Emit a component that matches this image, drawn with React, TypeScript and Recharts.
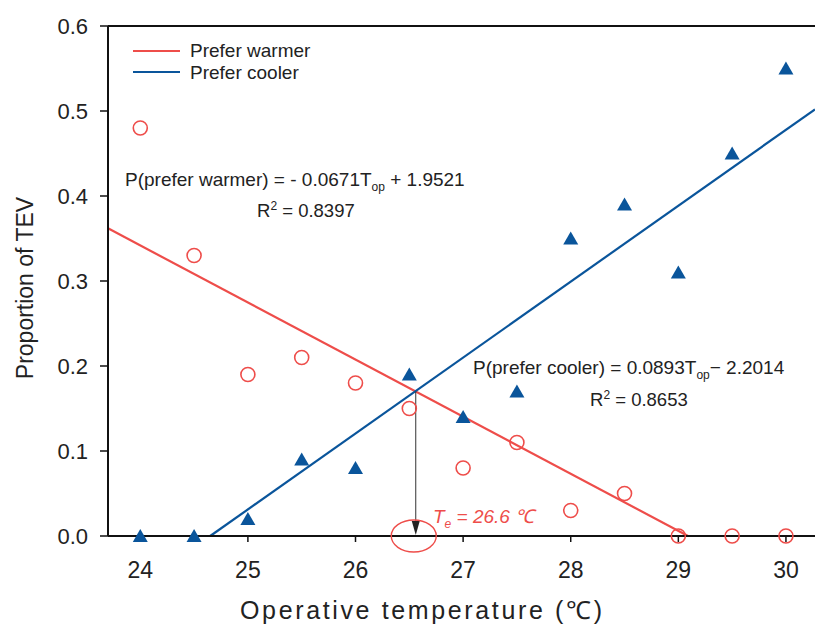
import React from 'react';
import { ScatterChart, Scatter, XAxis, YAxis, ReferenceLine, ReferenceDot } from 'recharts';

const temps = [24, 24.5, 25, 25.5, 26, 26.5, 27, 27.5, 28, 28.5, 29, 29.5, 30];
const preferWarmer = [0.48, 0.33, 0.19, 0.21, 0.18, 0.15, 0.08, 0.11, 0.03, 0.05, 0, 0, 0];
const preferCooler = [0, 0, 0.02, 0.09, 0.08, 0.19, 0.14, 0.17, 0.35, 0.39, 0.31, 0.45, 0.55];

// fitted line end points as drawn
const warmerFit = [{ x: 23.7, y: 0.362 }, { x: 29.09, y: 0 }];
const coolerFit = [{ x: 24.65, y: 0 }, { x: 30.27, y: 0.502 }];
const neutralTemp = 26.56;
const neutralP = 0.17;

const xTicks = [24, 25, 26, 27, 28, 29, 30];
const yTicks = [0, 0.1, 0.2, 0.3, 0.4, 0.5, 0.6];

const RED = '#ee4d4a';
const BLUE = '#0a559b';
const FONT = '"Liberation Sans", Arial, sans-serif';

const warmerData = temps.map((t, i) => ({ x: t, y: preferWarmer[i] }));
const coolerData = temps.map((t, i) => ({ x: t, y: preferCooler[i] }));

const Circle = (props: any) => (
  <circle cx={props.cx} cy={props.cy} r={7} fill="none" stroke={RED} strokeWidth={1.6} />
);

const Triangle = (props: any) => {
  const { cx, cy } = props;
  return <polygon points={`${cx},${cy - 7} ${cx - 7.5},${cy + 6} ${cx + 7.5},${cy + 6}`} fill={BLUE} />;
};

const NeutralMark = (props: any) => {
  const { cx, cy } = props;
  return (
    <g>
      <polygon points={`${cx},${cy - 1} ${cx - 4},${cy - 15} ${cx + 4},${cy - 15}`} fill="#222" />
      <ellipse cx={cx - 2} cy={cy} rx={22.5} ry={16} fill="none" stroke={RED} strokeWidth={1.4} />
    </g>
  );
};

export default function App() {
  return (
    <div style={{ position: 'absolute', left: 0, top: 0, width: 815, height: 626, background: '#fff' }}>
      <ScatterChart width={815} height={626} margin={{ top: 26, right: 0, bottom: 0, left: 0 }}>
        <XAxis
          type="number"
          dataKey="x"
          domain={[23.7, 30.27]}
          ticks={xTicks}
          height={90}
          tickSize={6}
          tickMargin={20}
          axisLine={{ stroke: '#111', strokeWidth: 2 }}
          tickLine={{ stroke: '#111', strokeWidth: 1.5 }}
          tick={{ fill: '#222', fontSize: 23, fontFamily: FONT }}
        />
        <YAxis
          type="number"
          dataKey="y"
          domain={[0, 0.6]}
          ticks={yTicks}
          width={108}
          tickSize={8}
          tickMargin={12}
          tickFormatter={(v: number) => v.toFixed(1)}
          axisLine={{ stroke: '#111', strokeWidth: 2 }}
          tickLine={{ stroke: '#111', strokeWidth: 1.5 }}
          tick={{ fill: '#222', fontSize: 22, fontFamily: FONT }}
        />
        <ReferenceLine y={0.6} stroke="#111" strokeWidth={2} />
        <ReferenceLine segment={warmerFit} stroke={RED} strokeWidth={2.2} ifOverflow="visible" />
        <ReferenceLine segment={coolerFit} stroke={BLUE} strokeWidth={2.2} ifOverflow="visible" />
        <ReferenceLine
          segment={[{ x: neutralTemp, y: neutralP }, { x: neutralTemp, y: 0.015 }]}
          stroke="#333"
          strokeWidth={1}
        />
        <Scatter data={warmerData} shape={Circle} isAnimationActive={false} />
        <Scatter data={coolerData} shape={Triangle} isAnimationActive={false} />
        <ReferenceDot x={neutralTemp} y={0} shape={NeutralMark} ifOverflow="visible" />
      </ScatterChart>
      <svg
        width={815}
        height={626}
        style={{ position: 'absolute', left: 0, top: 0, pointerEvents: 'none' }}
        fontFamily={FONT}
      >
        <line x1={133} y1={51} x2={180} y2={51} stroke={RED} strokeWidth={2.2} />
        <line x1={133} y1={72} x2={180} y2={72} stroke={BLUE} strokeWidth={2.2} />
        <text x={190} y={57} fontSize={19} fill="#222">Prefer warmer</text>
        <text x={190} y={79} fontSize={19} fill="#222">Prefer cooler</text>

        <text x={125} y={186} fontSize={19} fill="#222">
          P(prefer warmer) = - 0.0671T<tspan fontSize={12} dy={5}>op</tspan>
          <tspan dy={-5}> + 1.9521</tspan>
        </text>
        <text x={257} y={217} fontSize={18.5} fill="#222">
          R<tspan fontSize={12} dy={-7}>2</tspan><tspan dy={7}> = 0.8397</tspan>
        </text>
        <text x={473} y={374} fontSize={19} fill="#222">
          P(prefer cooler) = 0.0893T<tspan fontSize={12} dy={5}>op</tspan>
          <tspan dy={-5}>− 2.2014</tspan>
        </text>
        <text x={590} y={406} fontSize={18.5} fill="#222">
          R<tspan fontSize={12} dy={-7}>2</tspan><tspan dy={7}> = 0.8653</tspan>
        </text>

        <text x={433} y={523} fontSize={19} fill={RED} fontStyle="italic">
          T<tspan fontSize={12} dy={5}>e</tspan><tspan dy={-5}> = 26.6 ℃</tspan>
        </text>

        <text x={240} y={619} fontSize={25} fill="#222" textLength={362} lengthAdjust="spacing">
          Operative temperature (℃)
        </text>
        <text
          x={0}
          y={0}
          fontSize={23}
          fill="#222"
          textAnchor="middle"
          transform="translate(33,288) rotate(-90)"
        >
          Proportion of TEV
        </text>
      </svg>
    </div>
  );
}
